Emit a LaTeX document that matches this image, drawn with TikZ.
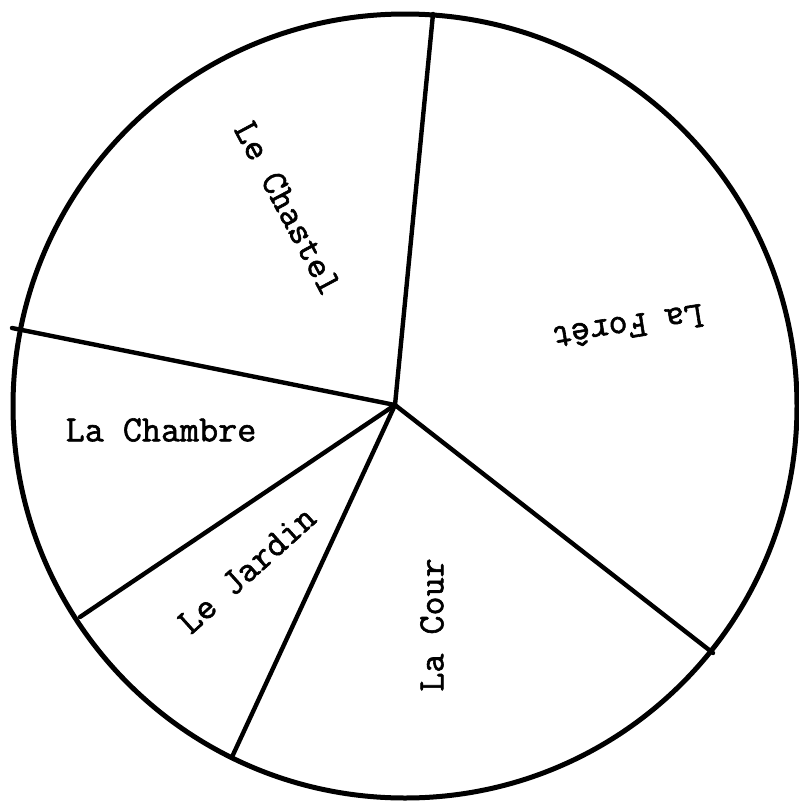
\documentclass[tikz,border=0pt]{standalone}
\usepackage{fontspec}
\newfontfamily\tw[FakeBold=1.6]{Latin Modern Mono}
\begin{document}
\begin{tikzpicture}[x=0.5pt,y=-0.5pt,
  rim/.style={line width=2.5pt},
  spoke/.style={line width=2.2pt, line cap=round},
  lbl/.style={font=\fontsize{18.5}{22}\selectfont\tw, inner sep=0pt}]
\useasboundingbox (0,0) rectangle (798,803);
\coordinate (O) at (405,406);
\draw[rim] (O) circle [radius=392];
\coordinate (C) at (395,405);
\coordinate (eT) at (433,14);
\coordinate (eL) at (12,328);
\coordinate (eLL) at (80,617);
\coordinate (eB) at (232,757);
\coordinate (eR) at (713,653);
\draw[spoke] (C) -- (eT);
\draw[spoke] (C) -- (eL);
\draw[spoke] (C) -- (eLL);
\draw[spoke] (C) -- (eB);
\draw[spoke] (C) -- (eR);
\node[lbl, rotate=-62] (chastel) at (288,208) {Le Chastel};
\node[lbl, rotate=189] (foret) at (628,327) {La Forêt};
\node[lbl] (chambre) at (161,430) {La Chambre};
\node[lbl, rotate=42] (jardin) at (247,570) {Le Jardin};
\node[lbl, rotate=90] (cour) at (432,625) {La Cour};
\end{tikzpicture}
\end{document}
